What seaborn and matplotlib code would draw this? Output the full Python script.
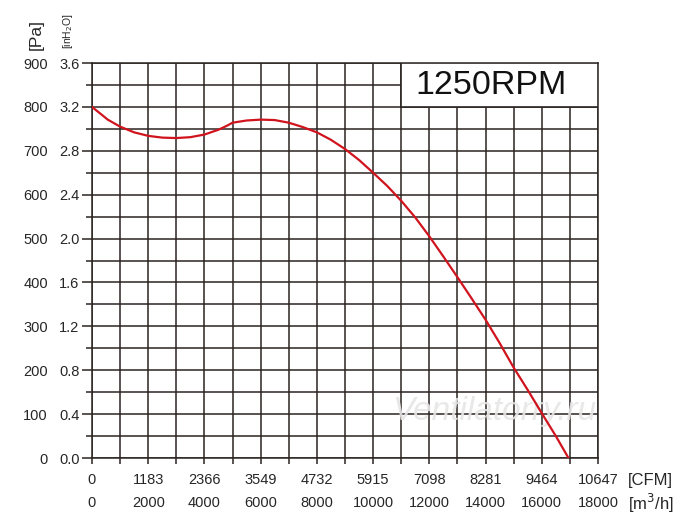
import numpy as np
import pandas as pd
import matplotlib.pyplot as plt
import matplotlib.patches as mpatches
import seaborn as sns
from matplotlib.ticker import MultipleLocator

# --- data (flow in m3/h, static pressure in Pa) ---
flow_m3h = [0, 330, 560, 1000, 1500, 2000, 2500, 3000, 3500, 4000, 4500,
            4800, 5000, 5500, 6000, 6500, 7000, 7500, 8000, 8500, 9000,
            9500, 10000, 10500, 11000, 11500, 12000, 12500, 13000, 13500,
            14000, 14500, 15000, 15500, 16000, 16500, 16950]
pressure_pa = [800, 783, 771, 755, 742, 734, 730, 729, 731, 737, 748,
               757, 764, 769, 771, 770, 764, 754, 742, 725, 704,
               679, 650, 620, 586, 548, 505, 459, 412, 364,
               315, 262, 206, 155, 102, 50, 0]

x_ticks = [0, 2000, 4000, 6000, 8000, 10000, 12000, 14000, 16000, 18000]
cfm_labels = ['0', '1183', '2366', '3549', '4732', '5915', '7098', '8281', '9464', '10647']
pa_ticks = [0, 100, 200, 300, 400, 500, 600, 700, 800, 900]
inh2o_labels = ['0.0', '0.4', '0.8', '1.2', '1.6', '2.0', '2.4', '2.8', '3.2', '3.6']

df = pd.DataFrame({'flow': flow_m3h, 'pressure': pressure_pa})

sns.set_style("white")
plt.rcParams['font.family'] = ['Liberation Sans', 'DejaVu Sans']
grid_col = '#2b2522'

fig = plt.figure(figsize=(7, 5.29), dpi=100)
ax = fig.add_axes([0.1314, 0.1342, 0.7229, 0.7467])

sns.lineplot(data=df, x='flow', y='pressure', ax=ax, color='#d0141e',
             linewidth=1.6, zorder=5)

ax.set_xlim(0, 18000)
ax.set_ylim(0, 900)
ax.xaxis.set_minor_locator(MultipleLocator(1000))
ax.yaxis.set_minor_locator(MultipleLocator(50))
ax.set_xticks(x_ticks)
ax.set_xticklabels([f"{c}\n{m}" for c, m in zip(cfm_labels, x_ticks)],
                   fontsize=10.5, linespacing=1.8)
ax.set_yticks(pa_ticks)
ax.set_yticklabels(inh2o_labels, fontsize=10.5)
ax.grid(which='both', color=grid_col, linewidth=1.1, zorder=1)
ax.set_axisbelow(True)
for s in ax.spines.values():
    s.set_color(grid_col)
    s.set_linewidth(1.1)
ax.tick_params(axis='x', which='both', length=4, width=1.1, color=grid_col,
               direction='out', pad=7, bottom=True)
ax.tick_params(axis='y', which='major', length=7, width=1.1, color=grid_col,
               direction='out', pad=2, left=True)
ax.tick_params(axis='y', which='minor', length=4, width=1.1, color=grid_col,
               direction='out', left=True)
ax.set_xlabel('')
ax.set_ylabel('')

# Pa column of labels
sec = ax.secondary_yaxis(-0.087)
sec.set_yticks(pa_ticks)
sec.set_yticklabels([str(p) for p in pa_ticks], fontsize=10.5)
sec.tick_params(length=0, pad=0)
sec.spines['left'].set_visible(False)

# speed box
ax.add_patch(mpatches.Rectangle((11000, 800), 7000, 100, facecolor='white',
                                edgecolor=grid_col, linewidth=1.2, zorder=6))
ax.text(11500, 848, '1250RPM', fontsize=24.5, va='center', ha='left',
        color='#111111', zorder=7)

# watermark
ax.text(14300, 105, 'Ventilatorry.ru', fontsize=24, style='italic',
        color='#e6e6e6', ha='center', va='center', zorder=4, alpha=0.9)

# unit labels
fig.text(628 / 700, 1 - 480 / 529, '[CFM]', fontsize=12, va='center', ha='left')
fig.text(628 / 700, 1 - 503 / 529, '[m$^3$/h]', fontsize=12, va='center', ha='left')
fig.text(36 / 700, 1 - 35 / 529, '[Pa]', fontsize=12.5, rotation=90,
         va='center', ha='center')
fig.text(68 / 700, 1 - 31 / 529, '[inH$_2$O]', fontsize=7.5, rotation=90,
         va='center', ha='center')

fig.savefig('out.png', dpi=100)
